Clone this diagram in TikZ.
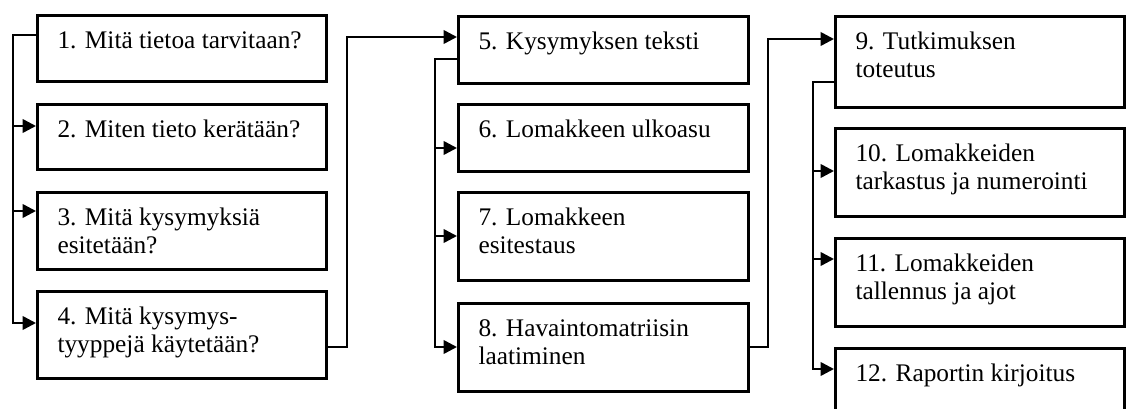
\documentclass[tikz,border=0pt]{standalone}
\usepackage{fontspec}
\setmainfont{Liberation Serif}
\usetikzlibrary{arrows.meta,calc}
\newdimen\pxu \pxu=0.75pt
\newcommand\boxtxt[3]{\parbox[c][#2\pxu][t]{#1\pxu}{\raggedright\leftskip=15pt\rule{0pt}{24.5pt}#3}}
\tikzset{
  box/.style={draw, line width=2.3pt, inner sep=0pt, anchor=north west,
    font=\fontsize{19pt}{21.5pt}\selectfont},
  conn/.style={line width=1.9pt},
  arr/.style={conn, -{Triangle[length=10pt,width=10pt]}}
}
\begin{document}
\begin{tikzpicture}[x=0.75pt,y=-0.75pt]
\clip (0,0) rectangle (1130,409);
\fill[white] (0,0) rectangle (1130,409);
% column 1
\node[box] (b1) at (36,14)  {\boxtxt{289}{66}{1. Mitä tietoa tarvitaan?}};
\node[box] (b2) at (36,103) {\boxtxt{289}{65}{2. Miten tieto kerätään?}};
\node[box] (b3) at (36,191) {\boxtxt{289}{77}{3. Mitä kysymyksiä\\esitetään?}};
\node[box] (b4) at (36,290) {\boxtxt{289}{87}{4. Mitä kysymys-\\tyyppejä käytetään?}};
% column 2
\node[box] (b5) at (457,15)  {\boxtxt{290}{67}{5. Kysymyksen teksti}};
\node[box] (b6) at (457,103) {\boxtxt{290}{67}{6. Lomakkeen ulkoasu}};
\node[box] (b7) at (457,191) {\boxtxt{290}{88}{7. Lomakkeen\\esitestaus}};
\node[box] (b8) at (457,302) {\boxtxt{290}{88}{8. Havaintomatriisin\\laatiminen}};
% column 3
\node[box] (b9)  at (834,15)  {\boxtxt{289}{91}{9. Tutkimuksen\\toteutus}};
\node[box] (b10) at (834,127) {\boxtxt{289}{88}{10. Lomakkeiden\\tarkastus ja numerointi}};
\node[box] (b11) at (834,237) {\boxtxt{289}{88}{11. Lomakkeiden\\tallennus ja ajot}};
\node[box] (b12) at (834,347) {\boxtxt{289}{85}{12. Raportin kirjoitus}};
% coordinates
\coordinate (o1) at ($(b1.north west)+(0,21)$);
\coordinate (j1) at (13,0);
\coordinate (a2) at ($(b2.north west)+(0,23)$);
\coordinate (a3) at ($(b3.north west)+(0,20)$);
\coordinate (a4) at ($(b4.north west)+(0,33)$);
\coordinate (e4) at ($(b4.north east)+(0,57)$);
\coordinate (v4) at (347,0);
\coordinate (a5) at ($(b5.north west)+(0,22)$);
\coordinate (o5) at ($(b5.north west)+(0,44)$);
\coordinate (j2) at (435,0);
\coordinate (a6) at ($(b6.north west)+(0,45)$);
\coordinate (a7) at ($(b7.north west)+(0,45)$);
\coordinate (a8) at ($(b8.north west)+(0,45)$);
\coordinate (e8) at ($(b8.north east)+(0,45)$);
\coordinate (v8) at (768,0);
\coordinate (a9) at ($(b9.north west)+(0,24)$);
\coordinate (o9) at ($(b9.north west)+(0,67)$);
\coordinate (j3) at (813,0);
\coordinate (a10) at ($(b10.north west)+(0,44)$);
\coordinate (a11) at ($(b11.north west)+(0,22)$);
\coordinate (a12) at ($(b12.north west)+(0,22)$);
% trunk 1
\draw[arr] (o1) -- (j1 |- o1) |- (a4);
\draw[arr] (j1 |- a2) -- (a2);
\draw[arr] (j1 |- a3) -- (a3);
% 4 -> 5
\draw[arr] (e4) -- (v4 |- e4) -- (v4 |- a5) -- (a5);
% trunk 2
\draw[arr] (o5) -- (j2 |- o5) |- (a8);
\draw[arr] (j2 |- a6) -- (a6);
\draw[arr] (j2 |- a7) -- (a7);
% 8 -> 9
\draw[arr] (e8) -- (v8 |- e8) -- (v8 |- a9) -- (a9);
% trunk 3
\draw[arr] (o9) -- (j3 |- o9) |- (a12);
\draw[arr] (j3 |- a10) -- (a10);
\draw[arr] (j3 |- a11) -- (a11);
\end{tikzpicture}
\end{document}
